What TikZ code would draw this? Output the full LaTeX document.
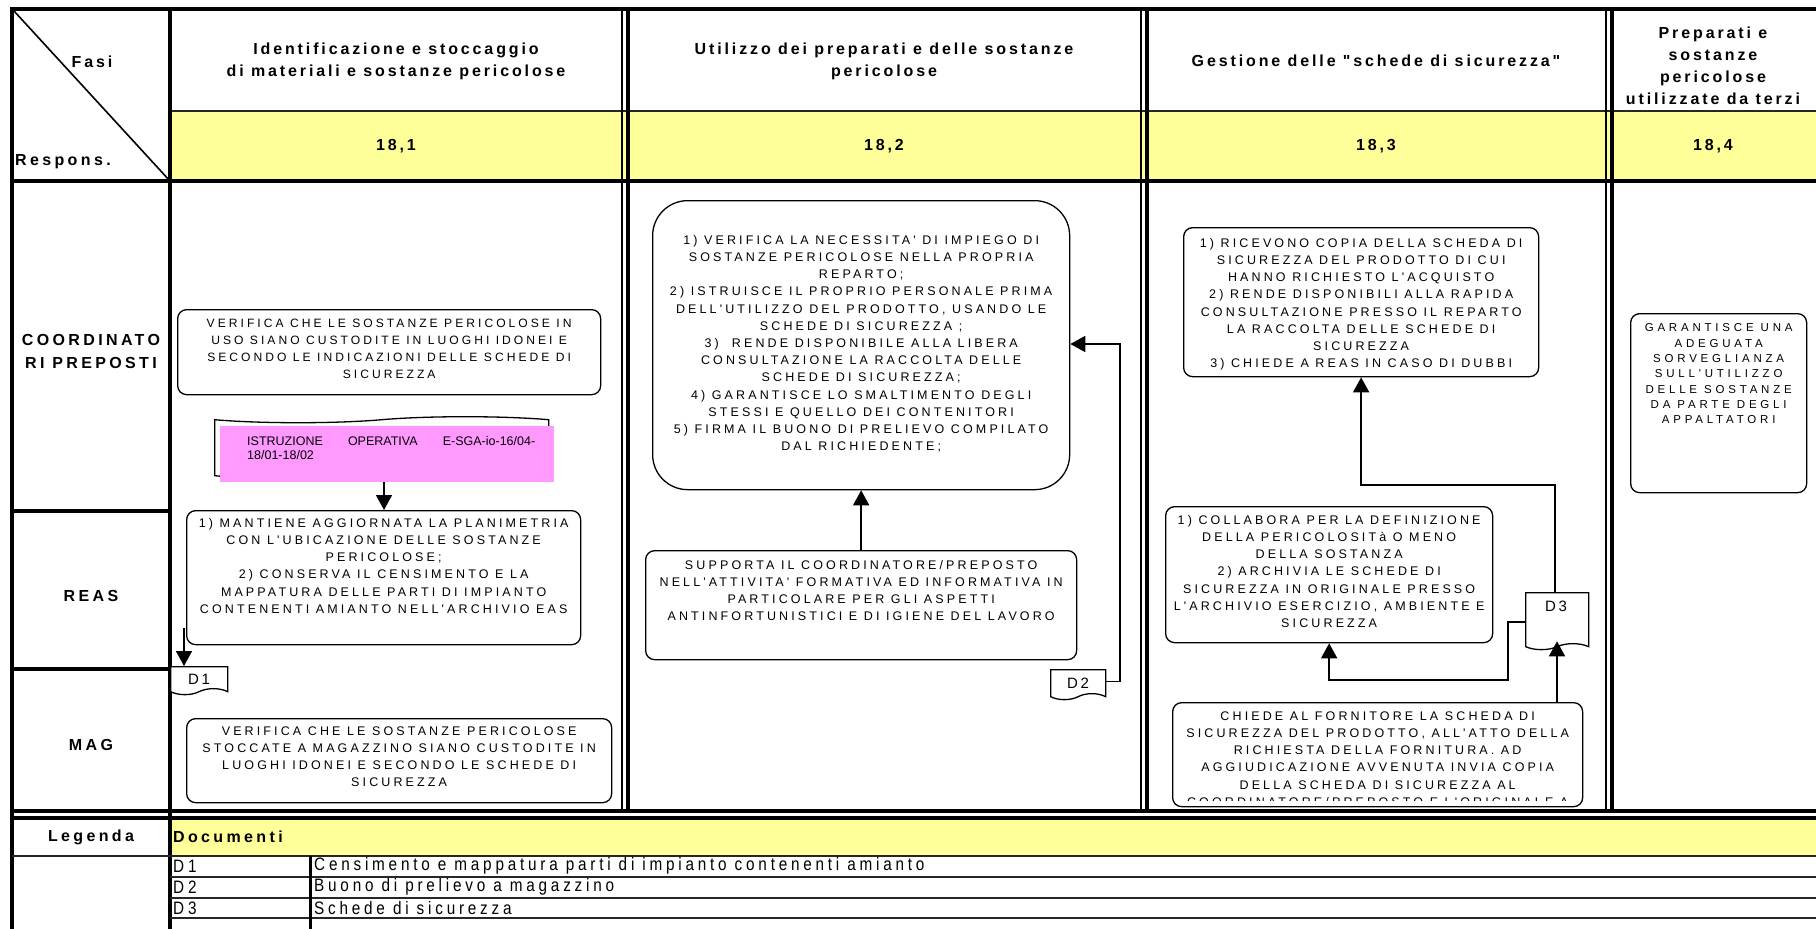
\documentclass[tikz,border=0pt]{standalone}
\usepackage{fontspec}
\setmainfont{Liberation Sans}
\usetikzlibrary{arrows.meta,shapes.symbols}
\newfontfamily\hdrfont[LetterSpace=18]{Liberation Sans}
\newfontfamily\lblfont[LetterSpace=21]{Liberation Sans}
\newfontfamily\boxfont[LetterSpace=25]{Liberation Sans}
\newfontfamily\smallfont[LetterSpace=33]{Liberation Sans}
\newfontfamily\legfont[LetterSpace=21,FakeStretch=0.85]{Liberation Sans}
\newfontfamily\plainfont{Liberation Sans}
\definecolor{hy}{HTML}{FFFF99}
\definecolor{pk}{HTML}{FF99FF}
\tikzset{
  gridthick/.style={line width=3.5pt},
  gridthin/.style={line width=1.5pt},
  gridrule/.style={line width=2pt, black!85},
  hdr/.style={font={\hdrfont\bfseries\fontsize{16}{22}\selectfont}, align=center, inner sep=0pt},
  lbl/.style={font={\lblfont\bfseries\fontsize{16}{23}\selectfont}, align=center, inner sep=0pt},
  card/.style={draw, line width=1.3pt, rounded corners=9pt, fill=white, inner sep=0pt, anchor=north west},
  cardtext/.style={font={\boxfont\fontsize{12.5}{17.2}\selectfont}, align=center, inner sep=0pt, anchor=north},
  smalltext/.style={font={\smallfont\fontsize{11.5}{15.3}\selectfont}, align=center, inner sep=0pt, anchor=north},
  doc/.style={draw, line width=1.3pt, fill=white, tape, tape bend top=none, tape bend height=6pt, inner sep=0pt, anchor=north west},
  doctext/.style={font={\hdrfont\fontsize{15}{16}\selectfont}, inner sep=0pt},
  legtext/.style={font={\legfont\fontsize{18}{19}\selectfont}, inner sep=0pt, anchor=west},
  conn/.style={line width=1.6pt},
  arr/.style={conn, -{Triangle[width=16pt,length=15pt]}},
}
\begin{document}
\begin{tikzpicture}[x=1pt,y=-1pt]
\useasboundingbox (0,0) rectangle (1816,929);
\fill[white] (0,0) rectangle (1816,929);
\begin{scope}
\clip (0,0) rectangle (1816,929);
% yellow bands
\fill[hy] (170,111) rectangle (1816,181);
\fill[hy] (170,819) rectangle (1816,856);
% header separator
\draw[gridrule] (170,111) -- (1816,111);
% diagonal
\draw[line width=1.6pt] (14,11) -- (170,181);
% outer and main lines
\draw[gridthick] (10,9) -- (1816,9);
\draw[gridthick] (12,9) -- (12,929);
\draw[gridthick] (170,9) -- (170,929);
\draw[gridthick] (12,181) -- (1816,181);
\draw[gridthick] (12,511) -- (170,511);
\draw[gridthick] (12,669) -- (170,669);
\draw[gridthick] (12,811) -- (1816,811);
\draw[gridthick] (12,818) -- (1816,818);
% double column lines
\draw[gridthin] (622,9) -- (622,811);
\draw[gridthick] (628,9) -- (628,811);
\draw[gridthin] (1141,9) -- (1141,811);
\draw[gridthick] (1147,9) -- (1147,811);
\draw[gridthin] (1606,9) -- (1606,811);
\draw[gridthick] (1612,9) -- (1612,811);
% legend lines
\draw[gridrule] (12,856) -- (1816,856);
\draw[gridrule] (170,877) -- (1816,877);
\draw[gridrule] (170,898) -- (1816,898);
\draw[gridrule] (170,918) -- (1816,918);
\draw[line width=3pt] (310,856) -- (310,929);

% header texts
\node[hdr] (fasi) at (92,62) {Fasi};
\node[lbl, anchor=west] (resp) at (15,162) {Respons.};
\node[hdr] (h1) at (396,61) {Identificazione e stoccaggio\\di materiali e sostanze pericolose};
\node[hdr] (h2) at (884,61) {Utilizzo dei preparati e delle sostanze\\pericolose};
\node[hdr] (h3) at (1376,61) {Gestione delle "schede di sicurezza"};
\node[hdr] (h4) at (1713,66) {Preparati e\\sostanze\\pericolose\\utilizzate da terzi};
\node[hdr] (n1) at (396,146) {18,1};
\node[hdr] (n2) at (884,146) {18,2};
\node[hdr] (n3) at (1376,146) {18,3};
\node[hdr] (n4) at (1713,146) {18,4};
% row labels
\node[lbl] (rcoord) at (91,351) {COORDINATO\\RI PREPOSTI};
\node[lbl] (rreas) at (91,596) {REAS};
\node[lbl] (rmag) at (91,745) {MAG};

% column 18,1
\node[card, minimum width=423pt, minimum height=85pt] (a) at (177,309) {};
\node[cardtext, font={\boxfont\fontsize{12.1}{17.2}\selectfont}] (at) at ([yshift=-6pt]a.north) {\strut VERIFICA CHE LE SOSTANZE PERICOLOSE IN\\USO SIANO CUSTODITE IN LUOGHI IDONEI E\\SECONDO LE INDICAZIONI DELLE SCHEDE DI\\SICUREZZA};
\node[doc, tape bend top=in and out, minimum width=334pt, minimum height=62pt] (istrback) at (214,419) {};
\node[fill=pk, inner sep=0pt, anchor=north west, minimum width=334pt, minimum height=56pt] (istr) at (220,426) {};
\node[font={\plainfont\fontsize{12.5}{14}\selectfont}, inner sep=0pt, anchor=north west, text width=288pt, align=left] (istrt) at (247,436) {ISTRUZIONE\hfill OPERATIVA\hfill E-SGA-io-16/04-\\18/01-18/02};
\node[card, minimum width=394pt, minimum height=134pt] (b) at (186,510) {};
\node[cardtext] (bt) at ([yshift=-5pt]b.north) {\strut 1) MANTIENE AGGIORNATA LA PLANIMETRIA\\CON L'UBICAZIONE DELLE SOSTANZE\\PERICOLOSE;\\2) CONSERVA IL CENSIMENTO E LA\\MAPPATURA DELLE PARTI DI IMPIANTO\\CONTENENTI AMIANTO NELL'ARCHIVIO EAS};
\node[doc, minimum width=57pt, minimum height=28pt] (d1) at (170,666) {};
\node[doctext] (d1t) at (199,679) {D1};
\node[card, minimum width=425pt, minimum height=84pt] (c) at (186,718) {};
\node[cardtext] (ct) at ([yshift=-5pt]c.north) {\strut VERIFICA CHE LE SOSTANZE PERICOLOSE\\STOCCATE A MAGAZZINO SIANO CUSTODITE IN\\LUOGHI IDONEI E SECONDO LE SCHEDE DI\\SICUREZZA};
\coordinate (x1) at (384,0);
\draw[arr] (istr.south -| x1) -- (b.north -| x1);
\coordinate (x2) at (184,628);
\draw[arr] (x2) -- (d1.north -| x2);

% column 18,2
\node[card, rounded corners=35pt, minimum width=417pt, minimum height=289pt] (d) at (652,200) {};
\node[cardtext] (dt) at ([yshift=-32pt]d.north) {\strut 1) VERIFICA LA NECESSITA' DI IMPIEGO DI\\SOSTANZE PERICOLOSE NELLA PROPRIA\\REPARTO;\\2) ISTRUISCE IL PROPRIO PERSONALE PRIMA\\DELL'UTILIZZO DEL PRODOTTO, USANDO LE\\SCHEDE DI SICUREZZA ;\\3)\ \ RENDE DISPONIBILE ALLA LIBERA\\CONSULTAZIONE LA RACCOLTA DELLE\\SCHEDE DI SICUREZZA;\\4) GARANTISCE LO SMALTIMENTO DEGLI\\STESSI E QUELLO DEI CONTENITORI\\5) FIRMA IL BUONO DI PRELIEVO COMPILATO\\DAL RICHIEDENTE;};
\node[card, minimum width=431pt, minimum height=109pt] (e) at (645,550) {};
\node[cardtext] (et) at ([yshift=-7pt]e.north) {\strut SUPPORTA IL COORDINATORE/PREPOSTO\\NELL'ATTIVITA' FORMATIVA ED INFORMATIVA IN\\PARTICOLARE PER GLI ASPETTI\\ANTINFORTUNISTICI E DI IGIENE DEL LAVORO};
\node[doc, minimum width=55pt, minimum height=30pt] (d2) at (1050,669) {};
\node[doctext] (d2t) at (1078,683) {D2};
\draw[arr] (e.north -| d.south) -- (d.south);
\coordinate (x3) at (1120,344);
\draw[arr] (d2.east) -| (x3) -- (d.east |- x3);

% column 18,3
\node[card, minimum width=355pt, minimum height=149pt] (f) at (1183,227) {};
\node[cardtext] (ft) at ([yshift=-8pt]f.north) {\strut 1) RICEVONO COPIA DELLA SCHEDA DI\\SICUREZZA DEL PRODOTTO DI CUI\\HANNO RICHIESTO L'ACQUISTO\\2) RENDE DISPONIBILI ALLA RAPIDA\\CONSULTAZIONE PRESSO IL REPARTO\\LA RACCOLTA DELLE SCHEDE DI\\SICUREZZA\\3) CHIEDE A REAS IN CASO DI DUBBI};
\node[card, minimum width=327pt, minimum height=136pt] (g) at (1165,506) {};
\node[cardtext] (gt) at ([yshift=-6pt]g.north) {\strut 1) COLLABORA PER LA DEFINIZIONE\\DELLA PERICOLOSITà O MENO\\DELLA SOSTANZA\\2) ARCHIVIA LE SCHEDE DI\\SICUREZZA IN ORIGINALE PRESSO\\L'ARCHIVIO ESERCIZIO, AMBIENTE E\\SICUREZZA};
\node[doc, minimum width=63pt, minimum height=57pt] (d3) at (1525,592) {};
\node[doctext] (d3t) at (1556,606) {D3};
\node[card, minimum width=410pt, minimum height=104pt] (h) at (1172,702) {};
\begin{scope}
\clip (1172,702) rectangle (1582,800);
\node[cardtext] (ht) at ([yshift=-6pt]h.north) {\strut CHIEDE AL FORNITORE LA SCHEDA DI\\SICUREZZA DEL PRODOTTO, ALL'ATTO DELLA\\RICHIESTA DELLA FORNITURA. AD\\AGGIUDICAZIONE AVVENUTA INVIA COPIA\\DELLA SCHEDA DI SICUREZZA AL\\COORDINATORE/PREPOSTO E L'ORIGINALE A};
\end{scope}
\coordinate (x4) at (1555,485);
\draw[arr] (d3.north -| x4) -- (x4) -| (f.south);
\coordinate (x5a) at (1508,622);
\coordinate (x5) at (1508,680);
\draw[arr] (d3.west |- x5a) -- (x5a) -- (x5) -| (g.south);
\coordinate (x6) at (1557,0);
\draw[arr] (h.north -| x6) -- ([yshift=3pt]d3.south -| x6);

% column 18,4
\node[card, minimum width=176pt, minimum height=179pt] (i) at (1630,313) {};
\node[smalltext] (it) at ([yshift=-8pt]i.north) {\strut GARANTISCE UNA\\ADEGUATA\\SORVEGLIANZA\\SULL'UTILIZZO\\DELLE SOSTANZE\\DA PARTE DEGLI\\APPALTATORI};

% legend
\node[lbl] (leg) at (91,837) {Legenda};
\node[lbl, anchor=west] (docs) at (173,837) {Documenti};
\node[legtext] (l1) at (173,866) {D1};
\node[legtext] (l2) at (173,887) {D2};
\node[legtext] (l3) at (173,908) {D3};
\node[legtext] (l1d) at (314,866) {Censimento e mappatura parti di impianto contenenti amianto};
\node[legtext] (l2d) at (314,887) {Buono di prelievo a magazzino};
\node[legtext] (l3d) at (314,908) {Schede di sicurezza};
\end{scope}
\end{tikzpicture}
\end{document}
